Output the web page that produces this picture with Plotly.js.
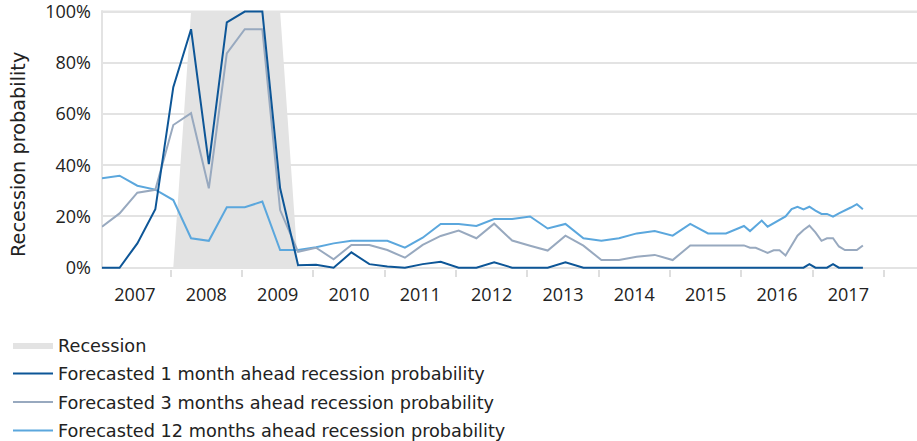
<!DOCTYPE html>
<html>
<head>
<meta charset="utf-8">
<script src="https://cdn.plot.ly/plotly-3.0.1.min.js"></script>
<style>
html,body{margin:0;padding:0;background:#fff;}
#chart{width:917px;height:441px;}
</style>
</head>
<body>
<div id="chart"></div>
<script>
// Dates: quarterly 2007-2015, monthly 2016-2017
const dates = [
  "2007-01-15","2007-04-15","2007-07-15","2007-10-15",
  "2008-01-15","2008-04-15","2008-07-15","2008-10-15",
  "2009-01-15","2009-04-15","2009-07-15","2009-10-15",
  "2010-01-15","2010-04-15","2010-07-15","2010-10-15",
  "2011-01-15","2011-04-15","2011-07-15","2011-10-15",
  "2012-01-15","2012-04-15","2012-07-15","2012-10-15",
  "2013-01-15","2013-04-15","2013-07-15","2013-10-15",
  "2014-01-15","2014-04-15","2014-07-15","2014-10-15",
  "2015-01-15","2015-04-15","2015-07-15","2015-10-15",
  "2016-01-15","2016-02-15","2016-03-15","2016-04-15","2016-05-15","2016-06-15",
  "2016-07-15","2016-08-15","2016-09-15","2016-10-15","2016-11-15","2016-12-15",
  "2017-01-15","2017-02-15","2017-03-15","2017-04-15","2017-05-15","2017-06-15",
  "2017-07-15","2017-08-15","2017-09-15"
];

// Recession indicator (0 or 100 %)
const recession = [
  0,0,0,0, 0,100,100,100, 100,100,100,0,
  0,0,0,0, 0,0,0,0, 0,0,0,0, 0,0,0,0, 0,0,0,0, 0,0,0,0,
  0,0,0,0,0,0, 0,0,0,0,0,0, 0,0,0,0,0,0, 0,0,0
];

// Forecasted 1 month ahead recession probability (%)
const ahead1 = [
  0,0,9.5,22.8, 70.5,93.1,40.4,95.8, 100,100,31.0,1.0,
  1.2,0,6.0,1.4, 0.5,0,1.4,2.3, 0,0,2.1,0, 0,0,2.1,0, 0,0,0,0, 0,0,0,0,
  0,0,0,0,0,0, 0,0,0,0,0,1.4, 0,0,0,1.4,0,0, 0,0,0
];

// Forecasted 3 months ahead recession probability (%)
const ahead3 = [
  16.0,21.2,29.3,30.4, 55.7,60.3,31.0,83.7, 93.1,93.1,22.5,6.2,
  7.8,3.3,8.9,8.9, 6.9,3.9,8.9,12.4, 14.5,11.5,17.2,10.6, 8.6,6.7,12.5,8.6,
  3.0,3.0,4.3,5.0, 3.0,8.7,8.7,8.7,
  8.7,7.8,7.8,6.8,5.8,6.8, 6.8,4.8,8.5,12.5,14.7,16.4,
  13.8,10.5,11.5,11.5,8.3,6.9, 6.9,6.9,8.7
];

// Forecasted 12 months ahead recession probability (%)
const ahead12 = [
  34.9,35.9,32.0,30.5, 26.4,11.5,10.5,23.6, 23.6,25.8,6.9,6.9,
  8.0,9.5,10.5,10.5, 10.5,7.8,11.7,17.1, 17.1,16.3,19.0,19.0, 20.0,15.3,17.1,11.5,
  10.5,11.5,13.4,14.3, 12.5,17.1,13.4,13.4,
  16.3,14.3,16.3,18.4,16.0,17.3, 18.7,20.0,22.9,23.8,22.8,23.8,
  22.3,21.0,21.0,19.9,21.2,22.3, 23.5,24.8,22.8
];

const seriesNames = [
  "Recession",
  "Forecasted 1 month ahead recession probability",
  "Forecasted 3 months ahead recession probability",
  "Forecasted 12 months ahead recession probability"
];

const FONT = "Open Sans, Noto Sans, sans-serif";
const LFONT = "DejaVu Sans, sans-serif";
const TXT = "#222222";
const GRID = "#e3e3e3";

const traces = [
  {x: dates, y: recession, name: seriesNames[0], type: "scatter", mode: "lines",
   fill: "tozeroy", fillcolor: GRID, line: {width: 0, color: GRID},
   legendrank: 1, legendgroup: "g0"},
  {x: dates, y: ahead12, name: seriesNames[3], type: "scatter", mode: "lines",
   line: {color: "#5ba7dd", width: 2}, legendrank: 4, legendgroup: "g3"},
  {x: dates, y: ahead3, name: seriesNames[2], type: "scatter", mode: "lines",
   line: {color: "#98a9bf", width: 2}, legendrank: 3, legendgroup: "g2"},
  {x: dates, y: ahead1, name: seriesNames[1], type: "scatter", mode: "lines",
   line: {color: "#0d5697", width: 2}, legendrank: 2, legendgroup: "g1"}
];

const layout = {
  width: 917, height: 441,
  margin: {l: 102, r: 0, t: 0, b: 172, pad: 0, autoexpand: false},
  paper_bgcolor: "#ffffff", plot_bgcolor: "#ffffff",
  font: {family: FONT, size: 18, color: TXT},
  showlegend: true,
  legend: {
    orientation: "v", xref: "container", yref: "container",
    x: 8 / 917, y: 1 - 327 / 441, xanchor: "left", yanchor: "top",
    font: {family: LFONT, size: 17.7, color: TXT}, traceorder: "grouped",
    tracegroupgap: 2.5, itemwidth: 40,
    bgcolor: "rgba(0,0,0,0)"
  },
  xaxis: {
    type: "date",
    range: ["2007-01-15", "2018-06-19"],
    tick0: "2007-01-01", dtick: "M12",
    tickformat: "%Y", ticklabelmode: "period",
    showgrid: false, zeroline: false, showline: false,
    ticks: "outside", ticklen: 7, tickwidth: 2, tickcolor: "#dedede",
    ticklabelstandoff: 2,
    tickfont: {family: FONT, size: 18, color: TXT},
    fixedrange: true
  },
  yaxis: {
    range: [-0.5, 104.5],
    tickmode: "linear", tick0: 0, dtick: 20, ticksuffix: "%",
    ticklabeloverflow: "allow",
    showgrid: true, gridcolor: GRID, gridwidth: 2,
    zeroline: true, zerolinecolor: GRID, zerolinewidth: 2,
    showline: false,
    ticks: "", ticklabelstandoff: 10,
    tickfont: {family: FONT, size: 18, color: TXT},
    fixedrange: true
  },
  shapes: [
    {type: "line", xref: "paper", yref: "y", x0: 0, x1: 0, y0: -0.5, y1: 100.5,
     line: {color: GRID, width: 2}, layer: "below"},
    {type: "line", xref: "paper", yref: "y", x0: 0, x1: 1, y0: 100, y1: 100,
     line: {color: GRID, width: 2}, layer: "below"}
  ],
  annotations: [{
    text: "Recession probability", textangle: -90,
    xref: "paper", yref: "paper",
    x: (18 - 102) / 815, y: (269 - 155) / 269,
    xanchor: "center", yanchor: "middle", showarrow: false,
    font: {family: LFONT, size: 19.3, color: TXT}
  }]
};

Plotly.newPlot("chart", traces, layout, {displayModeBar: false, staticPlot: true});
</script>
</body>
</html>
